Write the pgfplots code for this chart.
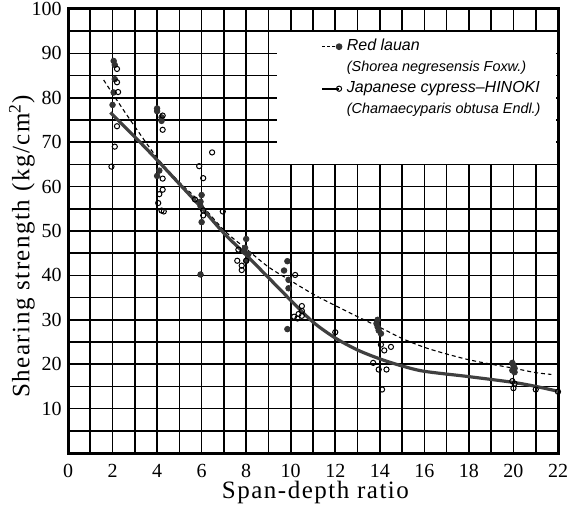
\documentclass[border=0pt]{standalone}
\usepackage{fontspec}
\setmainfont{Liberation Serif}
\newfontfamily\labelfont[LetterSpace=6]{Liberation Serif}
\newfontfamily\handfont[Ligatures=TeX]{Liberation Sans}
\usepackage{pgfplots}
\pgfplotsset{compat=1.18}

\begin{document}
\begin{tikzpicture}
\begin{axis}[
    scale only axis,
    width=245pt, height=222pt,
    xmin=0, xmax=22, ymin=0, ymax=100,
    clip=false,
    axis line style={line width=1.5pt},
    xtick={0,2,...,22},
    minor xtick={1,3,...,21},
    ytick={0,10,...,100},
    yticklabels={,10,20,30,40,50,60,70,80,90,100},
    minor ytick={5,15,...,95},
    major tick length=0pt, minor tick length=0pt,
    grid=both,
    major grid style={black, line width=0.8pt},
    minor grid style={black, line width=0.8pt},
    tick label style={font=\fontsize{10}{12}\selectfont, inner sep=0pt},
    /pgf/number format/assume math mode=true,
    xticklabel style={anchor=base, yshift=-12pt},
    yticklabel style={anchor=east, xshift=-3pt},
    xlabel={\labelfont Span-depth ratio},
    ylabel={\labelfont Shearing strength (kg/cm\textsuperscript{2})},
    label style={font=\fontsize{12.5}{14}\selectfont},
    xlabel style={at={(axis description cs:0.505,0)}, anchor=base, yshift=-22.5pt},
    ylabel style={at={(axis description cs:-0.094,0.465)}, anchor=center},
    legend style={at={(axis cs:11.35,93.4)}, anchor=north west, draw=none, fill=none,
        inner sep=0pt, row sep=2.5pt, column sep=2.5pt,
        nodes={inner sep=0pt, text height=6pt, text depth=2pt},
        font=\handfont\itshape\fontsize{8}{10}\selectfont},
    legend cell align=left,
    legend image code/.code={\draw[#1, mark repeat=2, mark phase=2]
        plot coordinates {(0cm,0cm) (0.3cm,0cm)};},
]
% white box behind the key
\fill[white] (axis cs:9.4,65.2) rectangle (axis cs:21.93,94.8);

% Red lauan (filled)
\addplot[only marks, mark=*, mark size=1.4pt, draw=black!80, fill=black!80, forget plot]
coordinates {
(2.05,88.3) (2.1,87.4) (2.1,84.2) (2.05,81.2) (2.0,78.4)
(4.0,77.6) (4.0,77.0) (4.2,75.6) (4.2,74.8) (4.1,63.6) (4.0,62.4)
(6.0,58.1) (5.95,56.6) (5.95,55.6) (6.0,52.0) (5.95,40.2)
(8.0,48.2) (7.95,46.2) (7.9,45.4) (8.1,44.8) (8.0,43.3)
(9.85,43.2) (9.7,41.1) (9.9,39.0) (9.9,37.1) (9.85,27.9)
(13.9,30.0) (13.85,29.2) (13.9,28.4) (13.95,27.6) (14.05,26.9)
(19.95,20.3) (20.0,19.7) (20.05,19.1) (19.95,18.6) (20.05,18.2)
};

% Hinoki (open)
\addplot[only marks, mark=o, mark size=1.3pt, draw=black, fill=white, line width=0.5pt, forget plot]
coordinates {
(2.2,86.5) (2.2,83.5) (2.25,81.3) (2.2,73.6) (2.1,69.0) (1.95,64.5)
(4.25,76.0) (4.25,72.8) (4.25,61.8) (4.25,59.3) (4.1,58.3) (4.05,56.3) (4.2,54.6) (4.3,54.4)
(6.47,67.7) (5.89,64.6) (6.07,61.9) (5.7,57.1) (6.07,54.6) (6.07,53.5) (6.95,54.4)
(7.65,45.8) (7.6,43.3) (8.0,43.3) (7.8,42.2) (7.8,41.2)
(10.2,40.1) (10.5,33.1) (10.5,32.0) (10.35,31.3) (10.15,30.7) (10.3,30.3) (10.5,30.9)
(12.0,27.2)
(14.05,24.4) (14.2,23.1) (14.5,23.9) (13.7,20.3) (13.95,18.8) (14.3,18.8) (14.1,14.3)
(19.95,16.2) (20.05,15.6) (20.0,14.6) (21.0,14.3) (22.0,13.8)
};

% Red lauan curve
\addplot[black, line width=0.55pt, dash pattern=on 2pt off 1.5pt, smooth, forget plot]
coordinates {
(1.6,84.0) (2.7,75.7) (4,66.5) (5,61.0) (5.7,57.6) (7,50.2) (8,46.0) (9,41.9)
(10,38.8) (11,35.8) (12,33.2) (13,30.7) (14,28.3) (15,25.8) (16,23.8) (17,22.3)
(18,21.0) (19,20.0) (20,19.1) (21,18.1) (21.7,17.7)
};

% Hinoki curve
\addplot[black!75, line width=1.6pt, smooth, forget plot]
coordinates {
(1.9,76.7) (3,71.2) (4,66.0) (5,60.6) (6,55.2) (7,49.5) (8,44.6) (9,39.5)
(10,34.4) (11,29.5) (12,25.9) (13,23.2) (14,21.2) (15,19.6) (16,18.4) (18,17.2)
(20,15.9) (21,15.0) (22,13.9)
};

\addlegendimage{black, line width=0.55pt, dash pattern=on 1.5pt off 1pt, mark=*, mark size=1.4pt, mark options={solid, fill=black!80, draw=black!80}}
\addlegendimage{empty legend}
\addlegendimage{black, line width=0.8pt, mark=o, mark size=1.3pt, mark options={fill=white, line width=0.5pt}}
\addlegendimage{empty legend}
\legend{Red lauan,
  {\fontsize{7.2}{9}\selectfont(Shorea negresensis Foxw.)},
  Japanese cypress–HINOKI,
  {\fontsize{7.2}{9}\selectfont(Chamaecyparis obtusa Endl.)}}
\end{axis}
\path (current axis.south west) ++(-34pt,-28pt) (current axis.north east) ++(6.5pt,4.5pt);
\end{tikzpicture}
\end{document}
